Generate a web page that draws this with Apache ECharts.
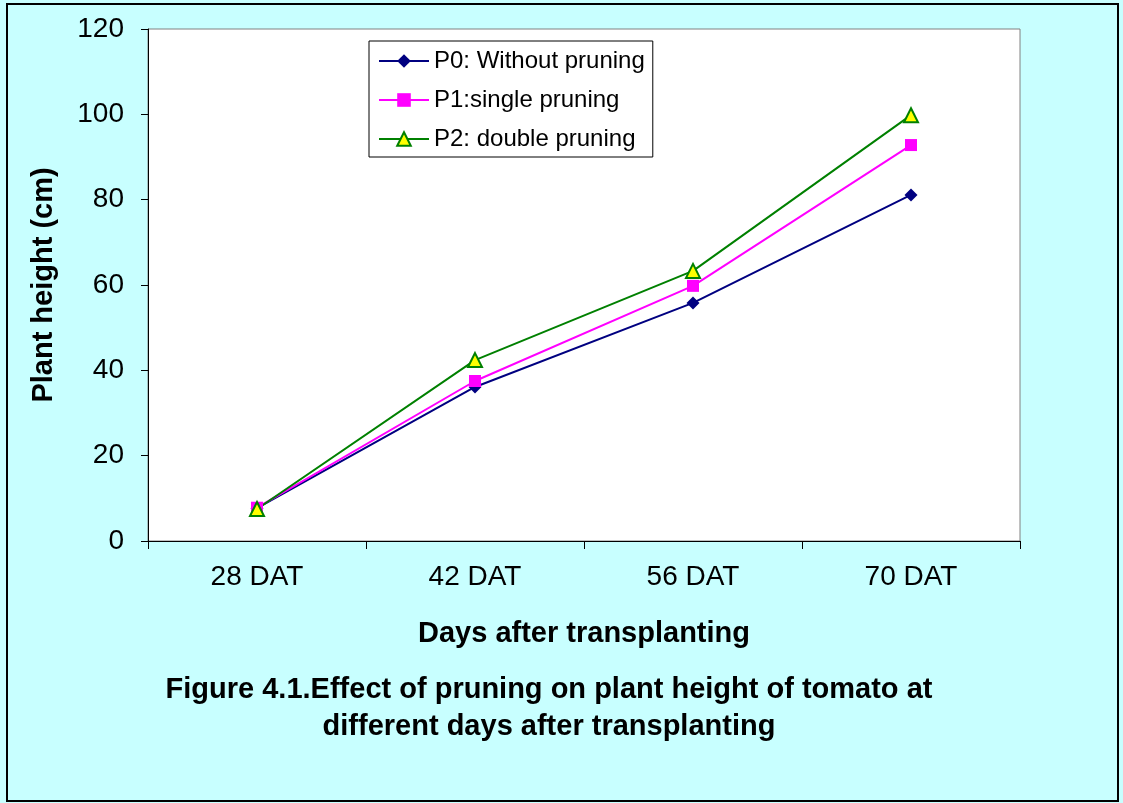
<!DOCTYPE html>
<html>
<head>
<meta charset="utf-8">
<script src="https://cdn.jsdelivr.net/npm/echarts@6/dist/echarts.min.js"></script>
<style>html,body{margin:0;padding:0;background:#fff}#c{width:1123px;height:803px}</style>
</head>
<body>
<div id="c"></div>
<script>
const categories = ['28 DAT', '42 DAT', '56 DAT', '70 DAT'];
const p0 = [7.7, 36.1, 55.8, 81.1];
const p1 = [7.8, 37.5, 59.8, 92.8];
const p2 = [7.5, 42.4, 63.3, 99.8];
const seriesNames = ['P0: Without pruning', 'P1:single pruning', 'P2: double pruning'];
const captionText = 'Figure 4.1.Effect of pruning on plant height of tomato at\ndifferent days after transplanting';
const xTitle = 'Days after transplanting';
const yTitle = 'Plant height (cm)';

const FONT = 'Liberation Sans, Arial, sans-serif';
const chart = echarts.init(document.getElementById('c'), null, {renderer: 'canvas'});
chart.setOption({
  backgroundColor: '#C8FFFF',
  animation: false,
  grid: {left: 148, top: 29, right: 103, bottom: 262, show: true, backgroundColor: '#ffffff', borderColor: '#808080', borderWidth: 1},
  legend: {
    orient: 'vertical', left: 369, top: 41,
    backgroundColor: '#ffffff', borderColor: '#000', borderWidth: 1,
    padding: [8, 8, 6, 9], itemWidth: 50, itemHeight: 17, itemGap: 15,
    textStyle: {fontFamily: FONT, fontSize: 24, color: '#000'},
    data: seriesNames
  },
  xAxis: {
    type: 'category', data: categories, boundaryGap: true,
    axisLine: {lineStyle: {color: '#000', width: 1}},
    axisTick: {show: true, length: 8, inside: false, lineStyle: {color: '#000'}},
    axisLabel: {fontFamily: FONT, fontSize: 28, color: '#000', margin: 22},
    name: xTitle, nameLocation: 'middle', nameGap: 78,
    nameTextStyle: {fontFamily: FONT, fontSize: 29, fontWeight: 'bold', color: '#000'}
  },
  yAxis: {
    type: 'value', min: 0, max: 120, interval: 20,
    splitLine: {show: false},
    axisLine: {show: true, lineStyle: {color: '#000', width: 1}},
    axisTick: {show: true, length: 7, lineStyle: {color: '#000'}},
    axisLabel: {fontFamily: FONT, fontSize: 28, color: '#000', margin: 24},
    name: yTitle, nameLocation: 'middle', nameGap: 90, nameRotate: 90,
    nameTextStyle: {fontFamily: FONT, fontSize: 29, fontWeight: 'bold', color: '#000'}
  },
  graphic: [
    {type: 'text', x: 549, y: 671, style: {text: captionText, font: 'bold 29px ' + FONT, fill: '#000', align: 'center', verticalAlign: 'top', lineHeight: 37}, z: 10},
    {type: 'rect', shape: {x: 7, y: 4, width: 1111, height: 797}, style: {fill: 'none', stroke: '#000', lineWidth: 2}, silent: true, z: 20}
  ],
  series: [
    {name: seriesNames[0], type: 'line', data: p0, symbol: 'diamond', symbolSize: 13,
      lineStyle: {color: '#000080', width: 2}, itemStyle: {color: '#000080'}},
    {name: seriesNames[1], type: 'line', data: p1, symbol: 'rect', symbolSize: 12,
      lineStyle: {color: '#FF00FF', width: 2}, itemStyle: {color: '#FF00FF'}},
    {name: seriesNames[2], type: 'line', data: p2, symbol: 'triangle', symbolSize: 14,
      lineStyle: {color: '#008000', width: 2}, itemStyle: {color: '#FFFF00', borderColor: '#008000', borderWidth: 2}}
  ]
});
</script>
</body>
</html>
